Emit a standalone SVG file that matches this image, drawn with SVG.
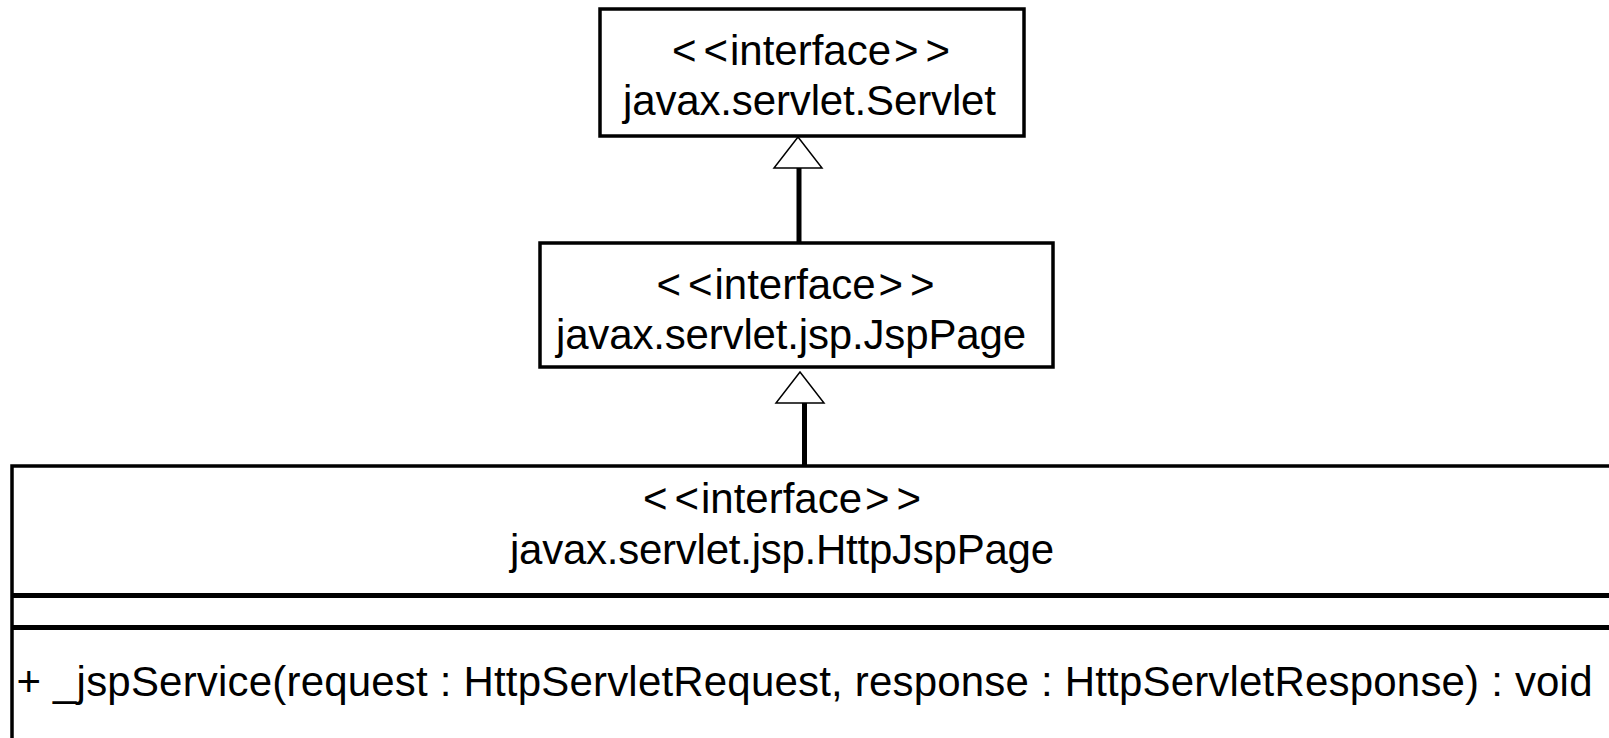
<svg xmlns="http://www.w3.org/2000/svg" width="1609" height="738" viewBox="0 0 1609 738">
<style>
.box{fill:#fff;stroke:#000;stroke-width:3.5}
.div{stroke:#000;stroke-width:5}
.t{font-family:"Liberation Sans",Arial,sans-serif;font-size:42px;fill:#000}
.c{text-anchor:middle}
.edge{stroke:#000;stroke-width:5;fill:none}
.head{fill:#fff;stroke:#000;stroke-width:1.5;stroke-linejoin:miter}
</style>
<rect width="1609" height="738" fill="#fff"/>
<g id="servlet">
<rect class="box" x="600" y="9" width="424" height="127"/>
<text class="t c" x="811" y="65">&lt;<tspan dx="7">&lt;</tspan><tspan dx="2">interface</tspan><tspan dx="3">&gt;</tspan><tspan dx="7">&gt;</tspan></text>
<text class="t c" x="809.5" y="115" textLength="373" lengthAdjust="spacing">javax.servlet.Servlet</text>
</g>
<g id="jsppage">
<rect class="box" x="540" y="243" width="513" height="124"/>
<text class="t c" x="795.5" y="299">&lt;<tspan dx="7">&lt;</tspan><tspan dx="2">interface</tspan><tspan dx="3">&gt;</tspan><tspan dx="7">&gt;</tspan></text>
<text class="t c" x="791" y="349" textLength="470" lengthAdjust="spacing">javax.servlet.jsp.JspPage</text>
</g>
<g id="httpjsppage">
<rect class="box" x="12" y="466" width="1700" height="400"/>
<line class="div" x1="12" y1="595.5" x2="1620" y2="595.5"/>
<line class="div" x1="12" y1="627.5" x2="1620" y2="627.5"/>
<text class="t c" x="782" y="513">&lt;<tspan dx="7">&lt;</tspan><tspan dx="2">interface</tspan><tspan dx="3">&gt;</tspan><tspan dx="7">&gt;</tspan></text>
<text class="t c" x="782" y="564" textLength="544" lengthAdjust="spacing">javax.servlet.jsp.HttpJspPage</text>
<text class="t" x="16.5" y="696" textLength="1576" lengthAdjust="spacing">+ _jspService(request : HttpServletRequest, response : HttpServletResponse) : void</text>
</g>
<g id="connectors">
<line class="edge" x1="799" y1="168" x2="799" y2="243"/>
<polygon class="head" points="798,137 774,168 822,168"/>
<line class="edge" x1="804.5" y1="403" x2="804.5" y2="466"/>
<polygon class="head" points="800,372 776,403 824,403"/>
</g>
</svg>
